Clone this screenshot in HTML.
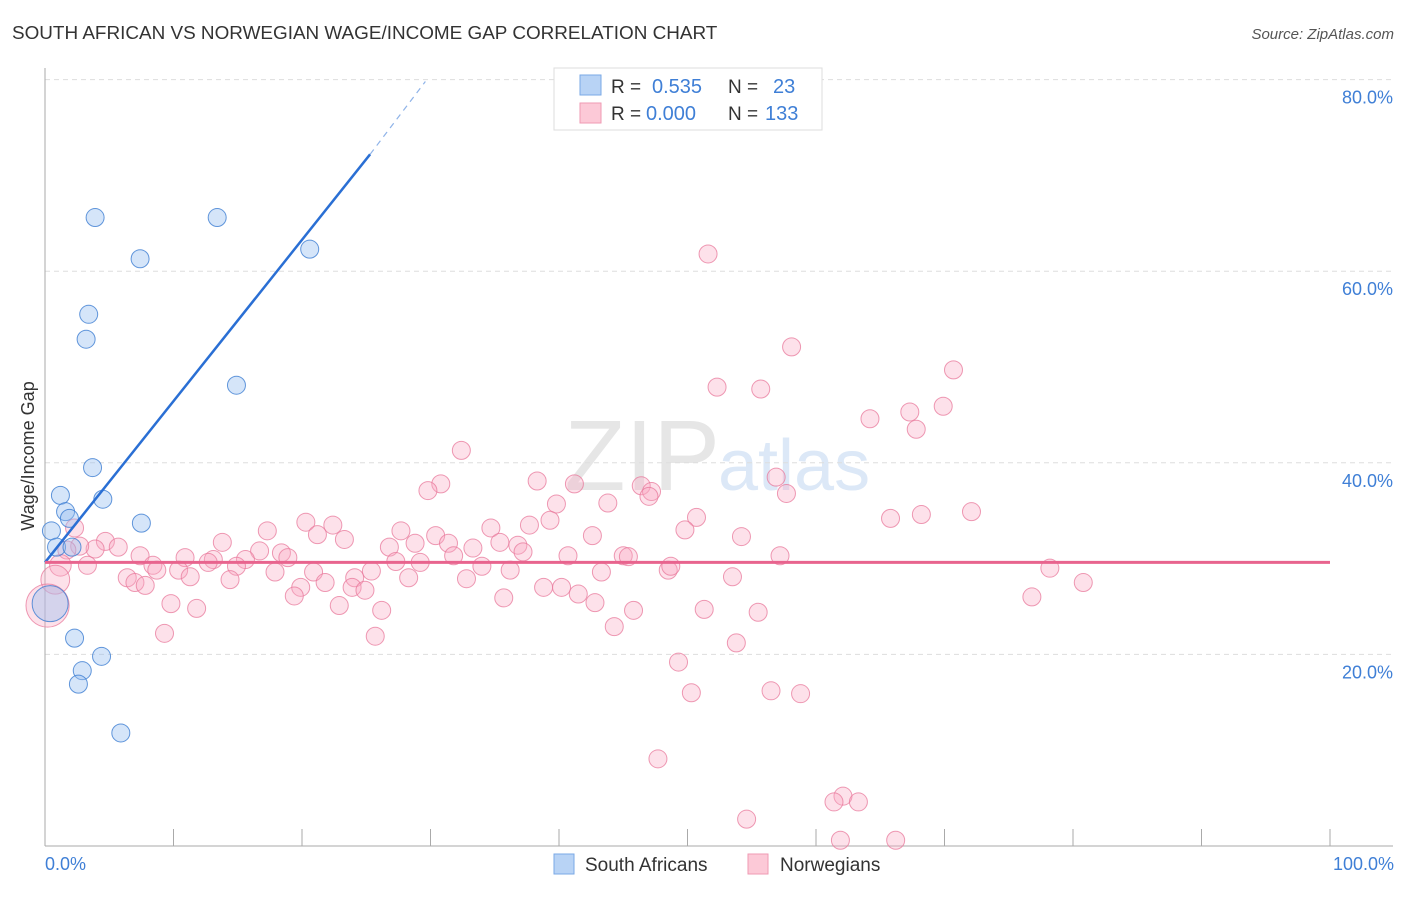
<!DOCTYPE html>
<html><head><meta charset="utf-8"><style>
body{margin:0;background:#fff;font-family:"Liberation Sans",sans-serif;}
svg text{font-family:"Liberation Sans",sans-serif;}
</style></head><body>
<svg width="1406" height="892" xmlns="http://www.w3.org/2000/svg">
<text x="12" y="39" font-size="18.9" fill="#333">SOUTH AFRICAN VS NORWEGIAN WAGE/INCOME GAP CORRELATION CHART</text>
<text x="1394" y="39" font-size="15" fill="#555" font-style="italic" text-anchor="end">Source: ZipAtlas.com</text>
<text x="720" y="490" font-size="100" fill="#e6e6e6" text-anchor="end" font-family="Liberation Serif">ZIP</text>
<text x="718" y="490" font-size="72" fill="#dce8f7">atlas</text>
<g id="grid"></g>
<g id="axes"></g>
<g id="pts"></g>
<g id="lines"></g>
<text transform="translate(34,456) rotate(-90)" font-size="18" fill="#333" text-anchor="middle">Wage/Income Gap</text>
<text x="45" y="870" font-size="18" fill="#3f7fd6">0.0%</text>
<text x="1394" y="870" font-size="18" fill="#3f7fd6" text-anchor="end">100.0%</text>
<g>
<rect x="554" y="68" width="268" height="62" fill="#fff" stroke="#ddd"/>
<rect x="580" y="75" width="21" height="20" fill="#b8d3f5" stroke="#7aa8e6"/>
<rect x="580" y="103" width="21" height="20" fill="#fcc9d7" stroke="#ef9ab3"/>
<text x="611" y="93" font-size="19" fill="#333">R = </text><text x="652" y="93" font-size="20" fill="#3f7fd6">0.535</text>
<text x="728" y="93" font-size="19" fill="#333">N = </text><text x="773" y="93" font-size="20" fill="#3f7fd6">23</text>
<text x="611" y="120" font-size="19" fill="#333">R = </text><text x="646" y="120" font-size="20" fill="#3f7fd6">0.000</text>
<text x="728" y="120" font-size="19" fill="#333">N = </text><text x="765" y="120" font-size="20" fill="#3f7fd6">133</text>
</g>
<g>
<rect x="554" y="854" width="20" height="20" fill="#b8d3f5" stroke="#7aa8e6"/>
<text x="585" y="871" font-size="19" fill="#333">South Africans</text>
<rect x="748" y="854" width="20" height="20" fill="#fcc9d7" stroke="#ef9ab3"/>
<text x="780" y="871" font-size="19" fill="#333">Norwegians</text>
</g>
</svg>
<script>
const yTicks=[20,40,60,80];
const yTickLabels=["20.0%","40.0%","60.0%","80.0%"];
const xTicks=[10,20,30,40,50,60,70,80,90,100];
const blueX=[3.9,13.4,7.4,20.6,3.4,3.2,14.9,3.7,1.2,4.5,1.6,1.9,7.5,0.5,0.9,2.1,0.4,2.3,4.4,2.9,2.6,5.9];
const blueY=[65.6,65.6,61.3,62.3,55.5,52.9,48.1,39.5,36.6,36.2,34.9,34.2,33.7,32.9,31.2,31.2,25.3,21.7,19.8,18.3,16.9,11.8];
const blueW=[1,1,1,1,1,1,1,1,1,1,1,1,1,1,1,1,2,1,1,1,1,1];
const pinkX=[51.6,58.1,70.7,52.3,55.7,69.9,67.3,64.2,67.8,32.4,56.9,38.3,30.8,29.8,41.2,46.4,47.2,47.0,57.7,39.8,43.8,39.3,50.7,65.8,68.2,72.1,20.3,22.4,17.3,2.3,34.7,37.7,49.8,27.7,21.2,23.3,30.4,42.6,54.2,13.8,31.4,35.4,36.8,28.8,26.8,4.7,3.9,5.7,2.7,1.7,16.7,18.4,33.3,31.8,37.2,40.7,45.0,45.4,57.2,7.4,10.9,13.1,15.6,18.9,14.9,8.4,10.4,12.7,29.2,27.3,34.0,48.5,48.7,3.3,1.2,8.7,17.9,20.9,25.4,36.2,43.3,78.2,11.3,14.4,24.1,28.3,32.8,53.5,6.4,7.0,7.8,21.8,38.8,40.2,41.5,23.9,24.9,19.9,0.8,19.4,35.7,80.8,76.8,42.8,9.8,11.8,22.9,26.2,45.8,51.3,55.5,0.2,44.3,9.3,25.7,53.8,49.3,50.3,56.5,58.8,47.7,62.1,61.4,63.3,54.6,61.9,66.2];
const pinkY=[61.8,52.1,49.7,47.9,47.7,45.9,45.3,44.6,43.5,41.3,38.5,38.1,37.8,37.1,37.8,37.6,37.0,36.5,36.8,35.7,35.8,34.0,34.3,34.2,34.6,34.9,33.8,33.5,32.9,33.2,33.2,33.5,33.0,32.9,32.5,32.0,32.4,32.4,32.3,31.7,31.6,31.7,31.4,31.6,31.2,31.8,31.0,31.2,31.3,30.9,30.8,30.6,31.1,30.3,30.7,30.3,30.3,30.2,30.3,30.3,30.1,29.9,29.9,30.1,29.2,29.3,28.8,29.6,29.6,29.7,29.2,28.8,29.2,29.3,29.3,28.8,28.6,28.6,28.7,28.8,28.6,29.0,28.1,27.8,28.0,28.0,27.9,28.1,28.0,27.5,27.2,27.5,27.0,27.0,26.3,27.0,26.7,27.0,27.8,26.1,25.9,27.5,26.0,25.4,25.3,24.8,25.1,24.6,24.6,24.7,24.4,25.1,22.9,22.2,21.9,21.2,19.2,16.0,16.2,15.9,9.1,5.2,4.6,4.6,2.8,0.6,0.6];
const pinkBig={74:1.2,98:1.6,111:2.4};
const blueTrend=[0,29.6,25.3,72.2];
const blueTrendEnd=[29.6,79.8];
const pinkTrendY=29.6;
const NS="http://www.w3.org/2000/svg";
const sx=v=>45+v*12.85, sy=v=>846-v*9.58;
function mk(tag,attrs,parent){const e=document.createElementNS(NS,tag);for(const k in attrs)e.setAttribute(k,attrs[k]);document.getElementById(parent).appendChild(e);return e;}
yTicks.forEach((t,i)=>{
 const g=mk('line',{x1:45,x2:1393,y1:sy(t),y2:sy(t),stroke:'#ddd','stroke-dasharray':'5,4'},'grid');
 
 
 const tx=mk('text',{x:1393,y:sy(t)+24,'font-size':18,fill:'#3f7fd6','text-anchor':'end'},'grid');
 tx.textContent=yTickLabels[i];
 
 
});
const ya=mk('line',{x1:45,x2:45,y1:68,y2:846,stroke:'#aaa'},'axes');


const xa=mk('line',{x1:45,x2:1393,y1:846,y2:846,stroke:'#aaa'},'axes');


xTicks.forEach(t=>{const l=mk('line',{x1:sx(t),x2:sx(t),y1:846,y2:829,stroke:'#aaa'},'axes');
 
 });
pinkX.forEach((x,i)=>{const w=pinkBig[i]||1;
 const c=mk('circle',{cx:sx(x),cy:sy(pinkY[i]),r:9*w,fill:'rgba(248,170,195,0.35)',stroke:'rgba(232,120,155,0.75)','stroke-width':1},'pts');
 
 });
blueX.forEach((x,i)=>{
 const c=mk('circle',{cx:sx(x),cy:sy(blueY[i]),r:9*blueW[i],fill:'rgba(150,190,240,0.4)',stroke:'rgba(60,125,210,0.8)','stroke-width':1},'pts');
 
 });
const bl=mk('line',{x1:sx(blueTrend[0]),y1:sy(blueTrend[1]),x2:sx(blueTrend[2]),y2:sy(blueTrend[3]),stroke:'#2a6fd4','stroke-width':2.5},'lines');


const bd=mk('line',{x1:sx(blueTrend[2]),y1:sy(blueTrend[3]),x2:sx(blueTrendEnd[0]),y2:sy(blueTrendEnd[1]),stroke:'#8fb3e8','stroke-width':1.2,'stroke-dasharray':'6,5'},'lines');


const pl=mk('line',{x1:45,x2:1330,y1:sy(pinkTrendY),y2:sy(pinkTrendY),stroke:'#e8648e','stroke-width':3},'lines');


</script>
</body></html>
